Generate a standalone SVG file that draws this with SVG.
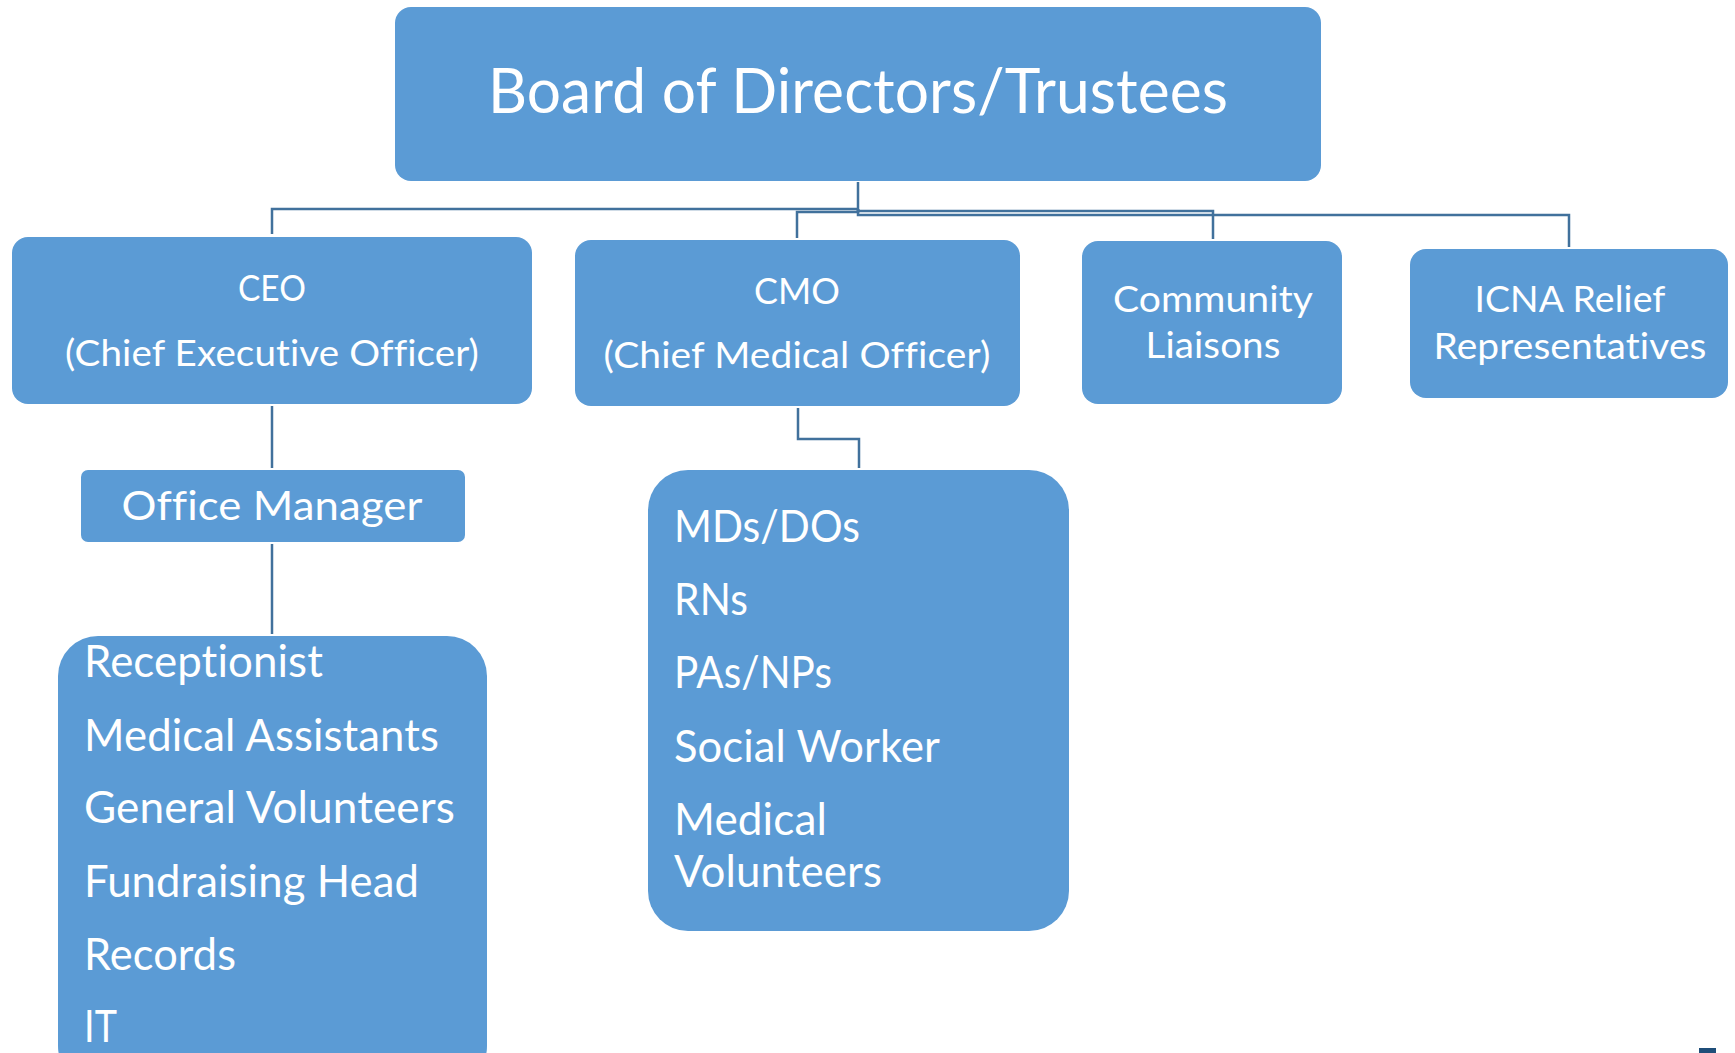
<svg xmlns="http://www.w3.org/2000/svg" width="1735" height="1053" viewBox="0 0 1735 1053">
<style>
.box{fill:#5B9BD5}
.t{font-family:Lato,"Open Sans","Liberation Sans",sans-serif;fill:#FFFFFF;font-variant-ligatures:none;font-feature-settings:"liga" 0,"dlig" 0;letter-spacing:0.1px}
.c{text-anchor:middle}
.conn{fill:none;stroke:#41719C;stroke-width:2.5}
</style>
<rect width="1735" height="1053" fill="#FFFFFF"/>
<g id="connectors">
<path class="conn" d="M858,182 V209 H272 V234"/>
<path class="conn" d="M858,209 V212 H797 V238"/>
<path class="conn" d="M858,209 V211 H1213 V239"/>
<path class="conn" d="M858,209 V215 H1569 V247"/>
<path class="conn" d="M272,406 V468"/>
<path class="conn" d="M272,544 V634"/>
<path class="conn" d="M798,408 V439 H859 V468"/>
</g>
<g id="board">
<rect class="box" x="395" y="7" width="926" height="174" rx="16"/>
<text class="t c" x="858" y="113" font-size="61" textLength="740" lengthAdjust="spacingAndGlyphs">Board of Directors/Trustees</text>
</g>
<g id="ceo">
<rect class="box" x="12" y="237" width="520" height="167" rx="16"/>
<text class="t c" x="272" y="301" font-size="36" textLength="68" lengthAdjust="spacingAndGlyphs">CEO</text>
<text class="t c" x="272" y="366" font-size="36" textLength="414" lengthAdjust="spacingAndGlyphs">(Chief Executive Officer)</text>
</g>
<g id="cmo">
<rect class="box" x="575" y="240" width="445" height="166" rx="16"/>
<text class="t c" x="797" y="304" font-size="36" textLength="86" lengthAdjust="spacingAndGlyphs">CMO</text>
<text class="t c" x="797" y="368" font-size="36" textLength="387" lengthAdjust="spacingAndGlyphs">(Chief Medical Officer)</text>
</g>
<g id="community">
<rect class="box" x="1082" y="241" width="260" height="163" rx="16"/>
<text class="t c" x="1213" y="312" font-size="36" textLength="200" lengthAdjust="spacingAndGlyphs">Community</text>
<text class="t c" x="1213" y="358" font-size="36" textLength="135" lengthAdjust="spacingAndGlyphs">Liaisons</text>
</g>
<g id="icna">
<rect class="box" x="1410" y="249" width="318" height="149" rx="16"/>
<text class="t c" x="1570" y="312" font-size="36" textLength="191" lengthAdjust="spacingAndGlyphs">ICNA Relief</text>
<text class="t c" x="1570" y="359" font-size="36" textLength="273" lengthAdjust="spacingAndGlyphs">Representatives</text>
</g>
<g id="office-manager">
<rect class="box" x="81" y="470" width="384" height="72" rx="7"/>
<text class="t c" x="272" y="520" font-size="41" textLength="301" lengthAdjust="spacingAndGlyphs">Office Manager</text>
</g>
<g id="office-staff">
<rect class="box" x="58" y="636" width="429" height="450" rx="40"/>
<text class="t" x="84" y="677" font-size="44" textLength="239" lengthAdjust="spacingAndGlyphs">Receptionist</text>
<text class="t" x="84" y="751" font-size="44" textLength="355" lengthAdjust="spacingAndGlyphs">Medical Assistants</text>
<text class="t" x="84" y="823" font-size="44" textLength="371" lengthAdjust="spacingAndGlyphs">General Volunteers</text>
<text class="t" x="84" y="897" font-size="44" textLength="335" lengthAdjust="spacingAndGlyphs">Fundraising Head</text>
<text class="t" x="84" y="970" font-size="44" textLength="152" lengthAdjust="spacingAndGlyphs">Records</text>
<text class="t" x="84" y="1042" font-size="44" textLength="33" lengthAdjust="spacingAndGlyphs">IT</text>
</g>
<g id="medical-staff">
<rect class="box" x="648" y="470" width="421" height="461" rx="40"/>
<text class="t" x="674" y="542" font-size="44" textLength="186" lengthAdjust="spacingAndGlyphs">MDs/DOs</text>
<text class="t" x="674" y="615" font-size="44" textLength="74" lengthAdjust="spacingAndGlyphs">RNs</text>
<text class="t" x="674" y="688" font-size="44" textLength="158" lengthAdjust="spacingAndGlyphs">PAs/NPs</text>
<text class="t" x="674" y="762" font-size="44" textLength="266" lengthAdjust="spacingAndGlyphs">Social Worker</text>
<text class="t" x="674" y="835" font-size="44" textLength="153" lengthAdjust="spacingAndGlyphs">Medical</text>
<text class="t" x="674" y="887" font-size="44" textLength="208" lengthAdjust="spacingAndGlyphs">Volunteers</text>
</g>
<rect x="1699" y="1048" width="17" height="5" fill="#1F4E79"/>
</svg>
